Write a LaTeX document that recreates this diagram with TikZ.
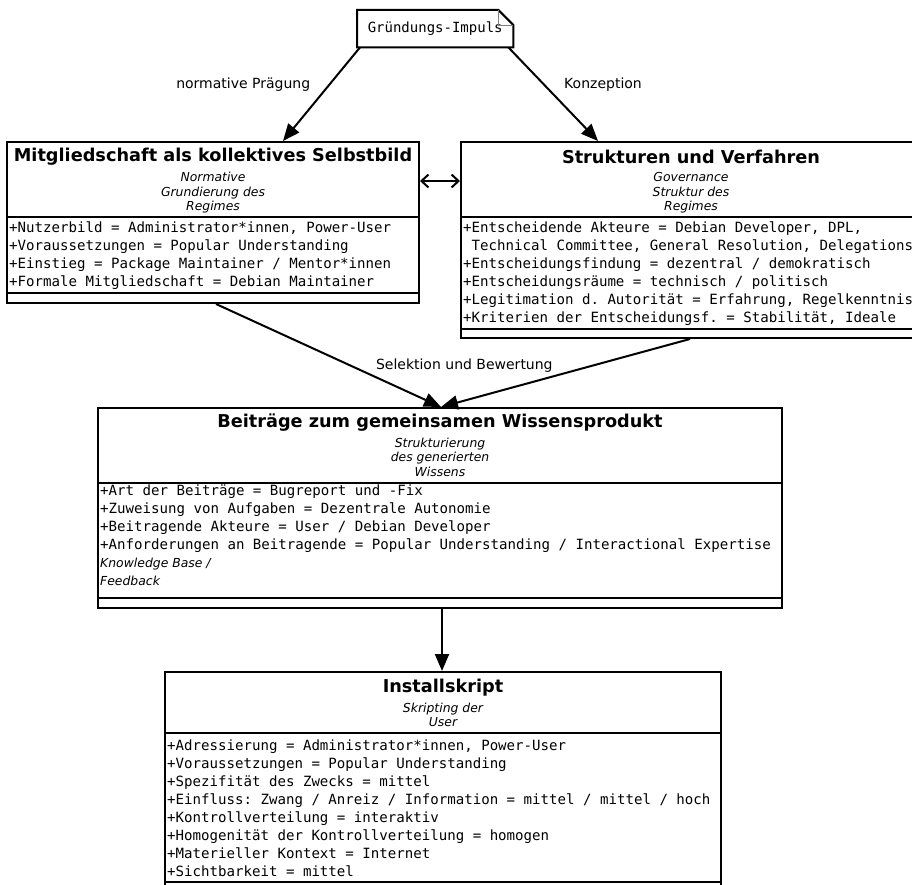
\documentclass[tikz,border=0pt]{standalone}
\usepackage{fontspec}
\setmainfont{DejaVu Sans}
\setmonofont{DejaVu Sans Mono}
\usetikzlibrary{arrows.meta,positioning}

\begin{document}
\begin{tikzpicture}[
    x=1pt, y=-1pt,
    >={Triangle[length=17pt,width=14pt]},
    class box/.style={draw=black, line width=2pt, anchor=north west, inner sep=0pt},
    class line/.style={line width=2pt},
    class title/.style={font=\fontsize{17.7}{20}\selectfont\bfseries, inner sep=0pt},
    class stereo/.style={font=\fontsize{12.4}{14.5}\selectfont\itshape, align=center, inner sep=0pt},
    class attr/.style={font=\fontsize{14.1}{18}\selectfont\ttfamily, align=left, anchor=west, inner sep=0pt},
    class note/.style={font=\fontsize{14}{16}\selectfont\ttfamily, anchor=north west, inner sep=0pt,
        minimum width=156pt, minimum height=37pt},
    assoc/.style={->, line width=2pt},
    both assoc/.style={{Straight Barb[length=7pt,width=13pt]}-{Straight Barb[length=7pt,width=13pt]}, line width=2pt},
    edge label/.style={font=\fontsize{14}{16}\selectfont, inner sep=0pt},
]
\useasboundingbox (0,0) rectangle (912,885);

% Notiz oben
\node[class note] (impuls) at (357,10) {Gründungs-Impuls};
\draw[class line] (impuls.south west) -- (impuls.north west) -- ([xshift=-15pt]impuls.north east)
    -- ([yshift=-15pt]impuls.north east) -- (impuls.south east) -- cycle;
\draw[thin, gray] ([xshift=-15pt]impuls.north east) -- ([xshift=-15pt,yshift=-15pt]impuls.north east)
    -- ([yshift=-15pt]impuls.north east);

% Mitgliedschaft
\node[class box, minimum width=412pt, minimum height=161pt] (mitglied) at (6,141) {};
\node[class title] (mitglied-title) at ([yshift=-16pt]mitglied.north) {Mitgliedschaft als kollektives Selbstbild};
\node[class stereo] (mitglied-stereo) at ([yshift=-52pt]mitglied.north) {Normative\\Grundierung des\\Regimes};
\draw[class line] ([yshift=-76pt]mitglied.north west) -- ([yshift=-76pt]mitglied.north east);
\node[class attr] (mitglied-attr) at ([shift={(3pt,-115pt)}]mitglied.north west) {%
    +Nutzerbild = Administrator*innen, Power-User\\
    +Voraussetzungen = Popular Understanding\\
    +Einstieg = Package Maintainer / Mentor*innen\\
    +Formale Mitgliedschaft = Debian Maintainer};
\draw[class line] ([yshift=-152pt]mitglied.north west) -- ([yshift=-152pt]mitglied.north east);

% Strukturen
\node[class box, minimum width=460pt, minimum height=196pt] (struktur) at (460,141) {};
\node[class title] (struktur-title) at ([yshift=-16pt]struktur.north) {Strukturen und Verfahren};
\node[class stereo] (struktur-stereo) at ([yshift=-52pt]struktur.north) {Governance\\Struktur des\\Regimes};
\draw[class line] ([yshift=-76pt]struktur.north west) -- ([yshift=-76pt]struktur.north east);
\node[class attr] (struktur-attr) at ([shift={(3pt,-133pt)}]struktur.north west) {%
    +Entscheidende Akteure = Debian Developer, DPL,\\
    \ Technical Committee, General Resolution, Delegations\\
    +Entscheidungsfindung = dezentral / demokratisch\\
    +Entscheidungsräume = technisch / politisch\\
    +Legitimation d. Autorität = Erfahrung, Regelkenntnis\\
    +Kriterien der Entscheidungsf. = Stabilität, Ideale};
\draw[class line] ([yshift=-188pt]struktur.north west) -- ([yshift=-188pt]struktur.north east);

% Beitraege
\node[class box, minimum width=684pt, minimum height=200pt] (beitrag) at (97,407) {};
\node[class title] (beitrag-title) at ([yshift=-16pt]beitrag.north) {Beiträge zum gemeinsamen Wissensprodukt};
\node[class stereo] (beitrag-stereo) at ([yshift=-50pt]beitrag.north) {Strukturierung\\des generierten\\Wissens};
\draw[class line] ([yshift=-76pt]beitrag.north west) -- ([yshift=-76pt]beitrag.north east);
\node[class attr] (beitrag-attr) at ([shift={(3pt,-112pt)}]beitrag.north west) {%
    +Art der Beiträge = Bugreport und -Fix\\
    +Zuweisung von Aufgaben = Dezentrale Autonomie\\
    +Beitragende Akteure = User / Debian Developer\\
    +Anforderungen an Beitragende = Popular Understanding / Interactional Expertise};
\node[class stereo, font=\fontsize{12.4}{18}\selectfont\itshape, align=left, anchor=west]
    (beitrag-base) at ([shift={(3pt,-165pt)}]beitrag.north west) {Knowledge Base /\\Feedback};
\draw[class line] ([yshift=-191pt]beitrag.north west) -- ([yshift=-191pt]beitrag.north east);

% Installskript
\node[class box, minimum width=556pt, minimum height=230pt] (skript) at (164,671) {};
\node[class title] (skript-title) at ([yshift=-17pt]skript.north) {Installskript};
\node[class stereo] (skript-stereo) at ([yshift=-44pt]skript.north) {Skripting der\\User};
\draw[class line] ([yshift=-62pt]skript.north west) -- ([yshift=-62pt]skript.north east);
\node[class attr] (skript-attr) at ([shift={(3pt,-137pt)}]skript.north west) {%
    +Adressierung = Administrator*innen, Power-User\\
    +Voraussetzungen = Popular Understanding\\
    +Spezifität des Zwecks = mittel\\
    +Einfluss: Zwang / Anreiz / Information = mittel / mittel / hoch\\
    +Kontrollverteilung = interaktiv\\
    +Homogenität der Kontrollverteilung = homogen\\
    +Materieller Kontext = Internet\\
    +Sichtbarkeit = mittel};
\draw[class line] ([yshift=-211pt]skript.north west) -- ([yshift=-211pt]skript.north east);

% Verbindungen
\draw[assoc] ([xshift=3pt]impuls.south west) -- ([xshift=70pt]mitglied.north)
    node[edge label, pos=0.4, left=18pt] (lbl-praegung) {normative Prägung};
\draw[assoc] ([xshift=-5pt]impuls.south east) -- ([xshift=138pt]struktur.north west)
    node[edge label, pos=0.4, right=19pt] (lbl-konzeption) {Konzeption};
\draw[both assoc] ([yshift=-40pt]mitglied.north east) -- ([yshift=-40pt]struktur.north west);
\draw[assoc] ([xshift=3pt]mitglied.south) -- ([xshift=1pt]beitrag.north)
    node[edge label, pos=0.6, right=24pt] (lbl-selektion) {Selektion und Bewertung};
\draw[assoc] ([xshift=230pt]struktur.south west) -- ([xshift=1pt]beitrag.north);
\draw[assoc] ([xshift=2pt]beitrag.south) -- ([xshift=2pt]beitrag.south |- skript.north);

\end{tikzpicture}
\end{document}
